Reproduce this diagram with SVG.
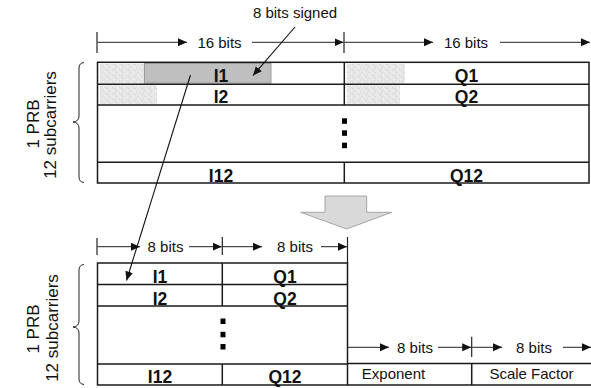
<svg xmlns="http://www.w3.org/2000/svg" width="591" height="388" viewBox="0 0 591 388">
  <style>
    .txt { font-family: "Liberation Sans", Arial, sans-serif; font-size: 15px; fill: #111; }
    .side { font-size: 17px; }
    .lbl { font-family: "Liberation Sans", Arial, sans-serif; font-size: 17.5px; font-weight: bold; fill: #111; text-anchor: middle; }
    .mid { text-anchor: middle; }
    .grid { stroke: #1a1a1a; stroke-width: 1.5; fill: none; }
    .dim { stroke: #222; stroke-width: 1; fill: none; }
    .dimL { marker-start: url(#tip); }
    .dimR { marker-end: url(#tip); }
    .tick { stroke: #222; stroke-width: 1.2; }
    .ptr { stroke: #111; stroke-width: 1.1; fill: none; marker-end: url(#tip); }
    .brace { stroke: #222; stroke-width: 1; fill: none; }
    .dot { fill: #000; }
    .speckle { fill: url(#speckle); }
  </style>
  <defs>
    <marker id="tip" viewBox="0 0 8 8" refX="8" refY="4" markerWidth="9" markerHeight="9" markerUnits="userSpaceOnUse" orient="auto-start-reverse">
      <path d="M0,0.5 L8,4 L0,7.5 Z" fill="#111"/>
    </marker>
    <pattern id="speckle" width="7" height="6" patternUnits="userSpaceOnUse">
      <rect width="7" height="6" fill="#e6e6e6"/>
      <rect x="1" y="1" width="1" height="1" fill="#f4f4f4"/>
      <rect x="4" y="0" width="1" height="1" fill="#d4d4d4"/>
      <rect x="5" y="3" width="1" height="1" fill="#f4f4f4"/>
      <rect x="2" y="4" width="1" height="1" fill="#d2d2d2"/>
      <rect x="0" y="3" width="1" height="1" fill="#dadada"/>
      <rect x="6" y="5" width="1" height="1" fill="#f0f0f0"/>
      <rect x="3" y="2" width="1" height="1" fill="#dcdcdc"/>
    </pattern>
  </defs>

  <!-- 16-bit I/Q table -->
  <g id="iq16">
    <rect class="speckle" x="100" y="64" width="44" height="19"/>
    <rect class="speckle" x="100" y="85.5" width="57" height="18.5"/>
    <rect class="speckle" x="347" y="64" width="58" height="19"/>
    <rect class="speckle" x="347" y="85.5" width="53" height="18.5"/>
    <rect x="144.5" y="63.5" width="126.5" height="19.5" fill="#bfbfbf" stroke="#9c9c9c" stroke-width="1"/>
    <rect class="grid" x="97.5" y="62.3" width="491.5" height="120.7"/>
    <path class="grid" d="M97.5,84.3 H589 M97.5,105 H589 M97.5,162.3 H589 M344.3,62.3 V105 M344.3,162.3 V183"/>
    <text class="lbl" x="221" y="82">I1</text>
    <text class="lbl" x="221" y="103">I2</text>
    <text class="lbl" x="221" y="181.5">I12</text>
    <text class="lbl" x="466.5" y="82">Q1</text>
    <text class="lbl" x="466.5" y="103">Q2</text>
    <text class="lbl" x="466.5" y="181.5">Q12</text>
    <rect class="dot" x="342" y="118.3" width="5" height="5.5"/>
    <rect class="dot" x="342" y="130.3" width="5" height="5.5"/>
    <rect class="dot" x="342" y="142.7" width="5" height="5.5"/>
  </g>

  <!-- 8-bit I/Q table -->
  <g id="iq8">
    <rect class="grid" x="97.5" y="263" width="250" height="122"/>
    <path class="grid" d="M97.5,284.5 H347.5 M97.5,306 H347.5 M97.5,364 H347.5 M222.3,263 V306 M222.3,364 V385"/>
    <text class="lbl" x="160" y="283">I1</text>
    <text class="lbl" x="160" y="304.5">I2</text>
    <text class="lbl" x="160" y="383">I12</text>
    <text class="lbl" x="285" y="283">Q1</text>
    <text class="lbl" x="285" y="304.5">Q2</text>
    <text class="lbl" x="285" y="383">Q12</text>
    <rect class="dot" x="220.5" y="318.5" width="5" height="5.5"/>
    <rect class="dot" x="220.5" y="331.8" width="5" height="5.5"/>
    <rect class="dot" x="220.5" y="344" width="5" height="5.5"/>
  </g>

  <!-- exponent and scale factor fields -->
  <g id="scaling">
    <path class="grid" d="M347.5,363.5 H591 M347.5,385 H591 M471.7,363.5 V385"/>
    <text class="txt" x="393.5" y="379" text-anchor="middle">Exponent</text>
    <text class="txt" x="531.5" y="379" text-anchor="middle">Scale Factor</text>
  </g>

  <!-- side braces with row-count labels -->
  <g id="brace-top">
    <path class="brace" d="M84,62.5 Q79,63 79,68 V116 Q79,121.5 73,122 Q79,122.5 79,128 V177 Q79,182 84,182.5"/>
    <text class="txt side mid" transform="translate(38.5,124) rotate(-90)">1 PRB</text>
    <text class="txt side mid" transform="translate(55.5,125) rotate(-90)">12 subcarriers</text>
  </g>
  <g id="brace-bottom">
    <path class="brace" d="M84,264.5 Q79,265 79,270 V321 Q79,326.5 73,327 Q79,327.5 79,333 V379 Q79,384 84,384.5"/>
    <text class="txt side mid" transform="translate(39,329) rotate(-90)">1 PRB</text>
    <text class="txt side mid" transform="translate(57.5,328) rotate(-90)">12 subcarriers</text>
  </g>

  <!-- compression arrow -->
  <g id="down-arrow">
    <path d="M325,196 H366.7 V212.3 H391.7 L346.7,229 L300.7,212.3 H325 Z" fill="#d9d9d9" stroke="#a6a6a6" stroke-width="1"/>
  </g>

  <!-- dimension labels -->
  <g id="dims">
    <line class="tick" x1="97" y1="32" x2="97" y2="53"/>
    <line class="tick" x1="344" y1="32" x2="344" y2="53"/>
    <path class="dim dimL" d="M187,42.3 H97.5"/>
    <path class="dim dimR" d="M252,42.3 H343.5"/>
    <path class="dim dimL" d="M433,42.3 H344.5"/>
    <path class="dim dimR" d="M500,42.3 H590"/>
    <text class="txt mid" x="219.5" y="48">16 bits</text>
    <text class="txt mid" x="466" y="48">16 bits</text>

    <line class="tick" x1="97" y1="238" x2="97" y2="255"/>
    <line class="tick" x1="222.3" y1="237" x2="222.3" y2="255"/>
    <line class="tick" x1="347.5" y1="237" x2="347.5" y2="263"/>
    <path class="dim dimL" d="M140,246.7 H97.5"/>
    <path class="dim dimR" d="M189,246.7 H221.8"/>
    <path class="dim dimL" d="M262,246.7 H222.8"/>
    <path class="dim dimR" d="M321,246.7 H347"/>
    <text class="txt mid" x="165.5" y="251.7">8 bits</text>
    <text class="txt mid" x="295" y="251.7">8 bits</text>

    <line class="tick" x1="471.7" y1="336.7" x2="471.7" y2="357"/>
    <path class="dim dimL" d="M389,347.3 H348"/>
    <path class="dim dimR" d="M438,347.3 H471.2"/>
    <path class="dim dimL" d="M502,347.3 H472.2"/>
    <path class="dim dimR" d="M563,347.3 H591"/>
    <text class="txt mid" x="415" y="352.5">8 bits</text>
    <text class="txt mid" x="534" y="352.5">8 bits</text>
  </g>

  <!-- callout and mapping pointers -->
  <g id="connectors">
    <text class="txt mid" x="295" y="18">8 bits signed</text>
    <path class="ptr" d="M295,27 L253,75.5"/>
    <path class="ptr" d="M190.5,75 L126.5,280.5"/>
  </g>
</svg>
